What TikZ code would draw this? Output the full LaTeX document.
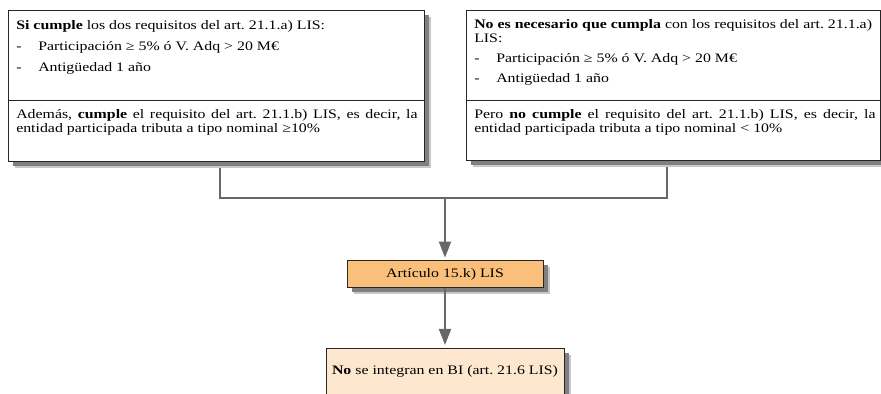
\documentclass[tikz,border=0pt]{standalone}
\usepackage{fontspec}
\setmainfont{Liberation Serif}[FakeStretch=1.22]
\usepackage{tikz}
\usetikzlibrary{positioning,calc,arrows.meta}
\definecolor{naranja}{HTML}{FBBF7C}
\definecolor{crema}{HTML}{FDE7CE}
\definecolor{gris}{HTML}{686868}
\newcommand{\guion}{\makebox[16.5pt][l]{-}}
\frenchspacing

\begin{document}
\begin{tikzpicture}[x=0.75pt,y=-0.75pt,
  caja/.style={draw=black!85, line width=0.6pt, fill=white,
    preaction={fill=black!22, transform canvas={xshift=5pt,yshift=-5pt}},
    preaction={fill=black!50, transform canvas={xshift=3.5pt,yshift=-3.5pt}}},
  texto/.style={anchor=north west, inner sep=0pt, align=left, font=\fontsize{9.75}{10.5}\selectfont},
  parrafo/.style={texto, align=justify, text width=301pt},
  union/.style={draw=gris, line width=1.5pt},
  flecha/.style={union, -{Triangle[width=9pt,length=12pt]}, shorten >=2pt}]
\useasboundingbox (0,0) rectangle (881,393);

% conectores
\coordinate (junta) at (445,198);
\draw[union] (220,161) |- (junta) -| (667,160);

% cajas superiores
\node[caja, anchor=north west, minimum width=312pt, minimum height=113.25pt] (izq) at (8,10) {};
\draw[black!85, line width=0.6pt] ($(izq.north west)+(0,90)$) -- ($(izq.north east)+(0,90)$);
\node[caja, anchor=north west, minimum width=310.5pt, minimum height=112.5pt] (der) at (466,10) {};
\draw[black!85, line width=0.6pt] ($(der.north west)+(0,90)$) -- ($(der.north east)+(0,90)$);

\node[texto] (reqizq) at (16,20) {\textbf{Si cumple} los dos requisitos del art. 21.1.a) LIS:\\[5.25pt]
\guion Participación ≥ 5\% ó V. Adq > 20 M€\\[5.25pt]
\guion Antigüedad 1 año};
\node[parrafo] (ademas) at (16,109) {Además, \textbf{cumple} el requisito del art. 21.1.b) LIS, es decir, la\linebreak entidad participada tributa a tipo nominal ≥10\%};

\node[texto] (reqder) at (474,19) {\textbf{No es necesario que cumpla} con los requisitos del art. 21.1.a)\\
LIS:\\[4.5pt]
\guion Participación ≥ 5\% ó V. Adq > 20 M€\\[4.5pt]
\guion Antigüedad 1 año};
\node[parrafo] (pero) at (474,109) {Pero \textbf{no cumple} el requisito del art. 21.1.b) LIS, es decir, la\linebreak entidad participada tributa a tipo nominal < 10\%};

% cajas inferiores
\node[caja, fill=naranja, minimum width=147pt, minimum height=20pt, font=\fontsize{9.75}{10.5}\selectfont] (art) at (445,274) {Artículo 15.k) LIS};
\node[caja, fill=crema, minimum width=178.5pt, minimum height=34.5pt, font=\fontsize{9.75}{10.5}\selectfont] (nose) at (445,371) {\textbf{No} se integran en BI (art. 21.6 LIS)};

\draw[flecha] (junta) -- (art);
\draw[flecha] (art) -- (nose);
\end{tikzpicture}
\end{document}
